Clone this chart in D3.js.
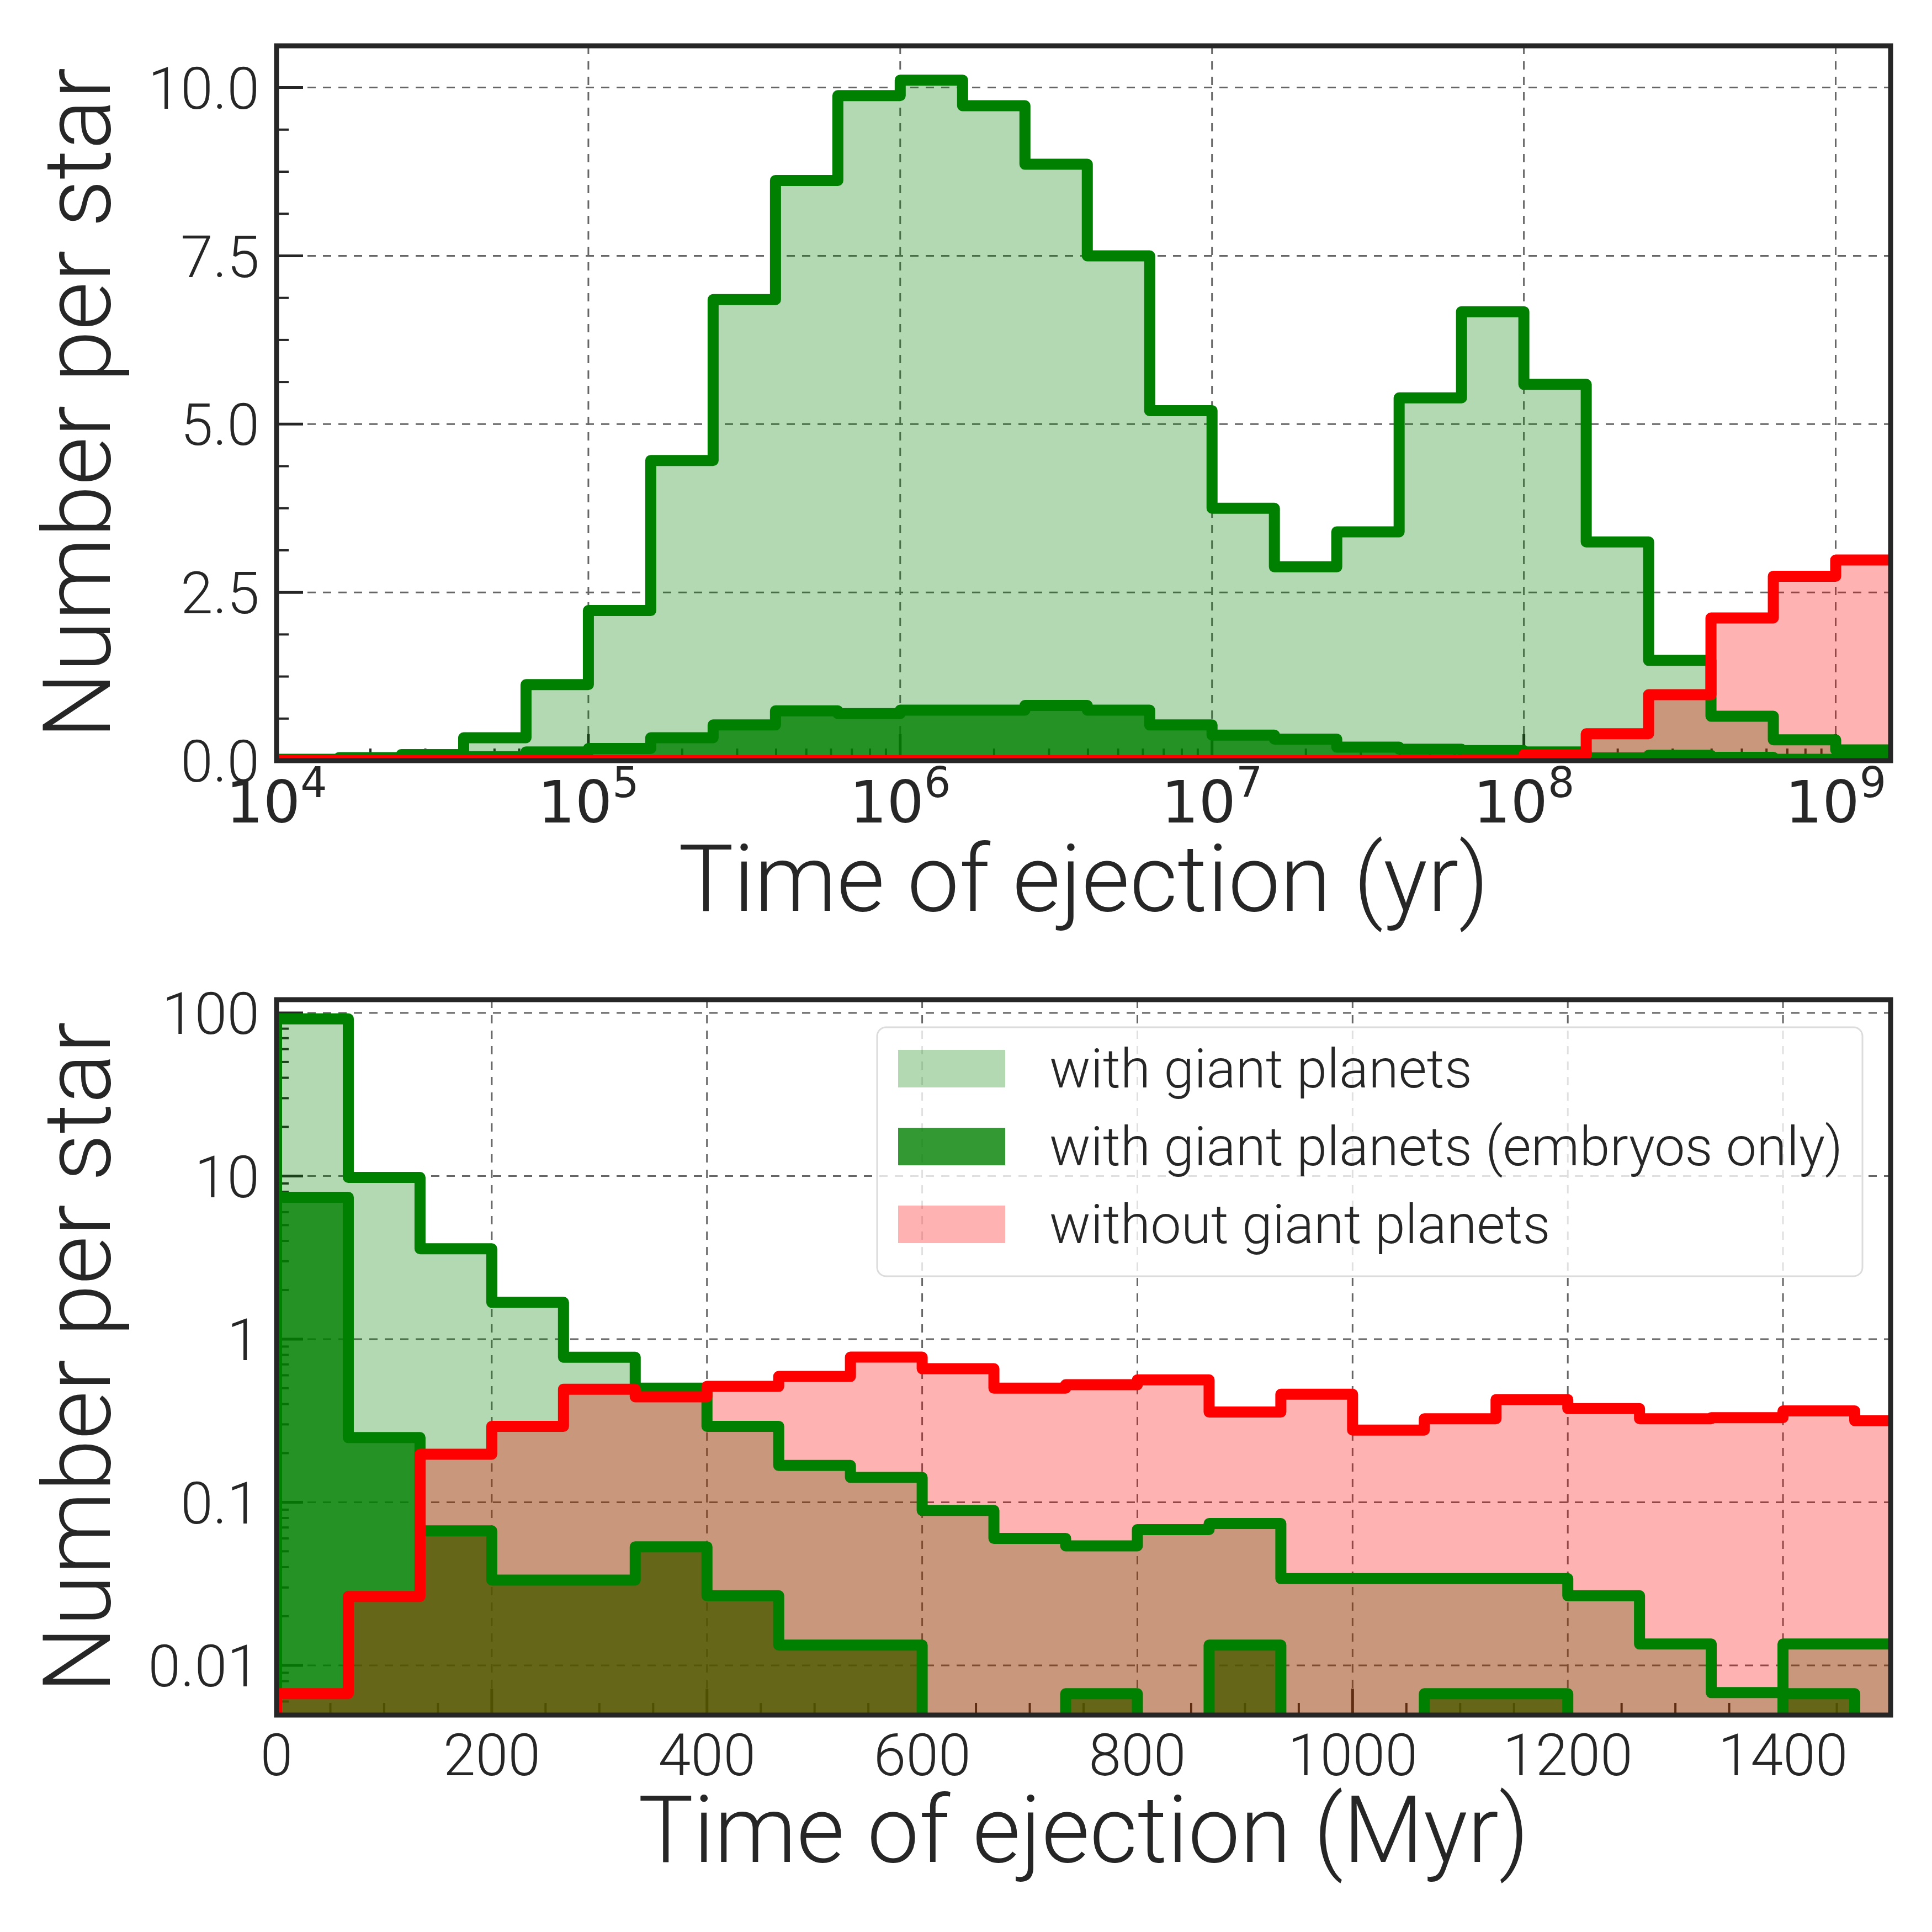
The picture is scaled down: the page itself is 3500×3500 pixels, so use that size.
<!DOCTYPE html>
<html><head><meta charset="utf-8">
<script src="https://cdn.jsdelivr.net/npm/d3@7"></script>
<style>
html,body{margin:0;padding:0;background:#fff;}
svg{display:block;}
text{font-family:Roboto,"Liberation Sans",sans-serif;font-weight:300;fill:#262626;}
text.math{font-family:"DejaVu Sans",sans-serif;font-weight:400;}
</style></head><body>
<svg id="chart" width="3500" height="3500" xmlns="http://www.w3.org/2000/svg"></svg>
<script>
// ---------------- DATA ----------------
// Top panel: log10 of bin edges (years)
const topEdgesLog10 = [4.0,4.2,4.4,4.6,4.8,5.0,5.2,5.4,5.6,5.8,6.0,6.2,6.4,6.6,6.8,7.0,7.2,7.4,7.6,7.8,8.0,8.2,8.4,8.6,8.8,9.0,9.2];
const topWithGiants   = [0.02,0.045,0.09,0.34,1.13,2.23,4.46,6.85,8.62,9.88,10.11,9.73,8.86,7.5,5.2,3.75,2.88,3.40,5.39,6.67,5.59,3.25,1.49,0.66,0.31,0.16];
const topEmbryosOnly  = [0.01,0.02,0.03,0.06,0.13,0.18,0.34,0.53,0.74,0.70,0.75,0.75,0.82,0.75,0.53,0.38,0.32,0.20,0.17,0.15,0.13,0.04,0.08,0.05,0.02,0.02];
const topWithoutGiants= [0,0,0,0,0,0,0,0,0,0,0,0,0,0,0,0,0,0,0,0.01,0.09,0.40,0.98,2.12,2.74,2.98];

// Bottom panel: bin edges (Myr)
const botEdges = [0,66.67,133.33,200,266.67,333.33,400,466.67,533.33,600,666.67,733.33,800,866.67,933.33,1000,1066.67,1133.33,1200,1266.67,1333.33,1400,1466.67,1533.33];
const botWithGiants    = [92,9.8,3.58,1.68,0.774,0.50,0.292,0.168,0.142,0.089,0.060,0.054,0.068,0.074,0.034,0.034,0.034,0.034,0.0267,0.0135,0.0068,0.0135,0.0135];
const botEmbryosOnly   = [7.4,0.249,0.0667,0.0333,0.0333,0.0533,0.0267,0.0133,0.0133,0,0,0.0067,0,0.0133,0,0,0.0067,0.0067,0,0,0,0.0067,0];
const botWithoutGiants = [0.0067,0.0264,0.197,0.292,0.493,0.443,0.513,0.59,0.776,0.658,0.50,0.525,0.562,0.357,0.459,0.277,0.325,0.426,0.375,0.325,0.33,0.363,0.316];

// Ticks / labels
const topXTickExps = [4,5,6,7,8,9];
const topYTicks = [0,2.5,5,7.5,10];
const topYTickLabels = ["0.0","2.5","5.0","7.5","10.0"];
const botXTicks = [0,200,400,600,800,1000,1200,1400];
const botYTicks = [0.01,0.1,1,10,100];
const botYTickLabels = ["0.01","0.1","1","10","100"];
const legendLabels = ["with giant planets","with giant planets (embryos only)","without giant planets"];
const yAxisLabel = "Number per star";
const topXAxisLabel = "Time of ejection (yr)";
const botXAxisLabel = "Time of ejection (Myr)";

// ---------------- STYLE / LAYOUT ----------------
const TEXT = "#262626";
const C_LIGHT = "rgba(0,128,0,0.3)";
const C_DARK = "rgba(0,128,0,0.8)";
const C_RED = "rgba(255,0,0,0.3)";
const LINE_G = "#008000", LINE_R = "#ff0000";
const LW = 20;
const L = 501, R = 3425;
const TICKFS = 106;
const topPanel = {top:83, bottom:1378};
const botPanel = {top:1811, bottom:3107};

const svg = d3.select("#chart");
svg.append("rect").attr("width",3500).attr("height",3500).attr("fill","#fff");
const defs = svg.append("defs");

const xTop = d3.scaleLog().domain([1e4, 1.5e9]).range([L, R]);
const yTop = d3.scaleLinear().domain([0, 10.62]).range([topPanel.bottom, topPanel.top]);
const xBot = d3.scaleLinear().domain([0, 1500]).range([L, R]);
const yBot = d3.scaleLog().domain([Math.pow(10,-2.305), Math.pow(10,2.081)]).range([botPanel.bottom, botPanel.top]);

function clip(id, p){
  defs.append("clipPath").attr("id",id).append("rect")
    .attr("x",L).attr("y",p.top).attr("width",R-L).attr("height",p.bottom-p.top);
}
clip("clipTop", topPanel); clip("clipBot", botPanel);

function stepPts(edges, vals, floor){
  const pts = [[edges[0], floor]];
  vals.forEach((v,i)=>{ const vv = v>0 ? v : floor; pts.push([edges[i], vv]); pts.push([edges[i+1], vv]); });
  pts.push([edges[edges.length-1], floor]);
  return pts;
}

function drawPanel(g, p, xs, ys, cfg){
  // grid
  const grid = g.append("g");
  cfg.xGrid.forEach(v=>grid.append("line").attr("x1",xs(v)).attr("x2",xs(v)).attr("y1",p.top).attr("y2",p.bottom));
  cfg.yGrid.forEach(v=>grid.append("line").attr("x1",L).attr("x2",R).attr("y1",ys(v)).attr("y2",ys(v)));
  grid.selectAll("line").attr("stroke","#666").attr("stroke-width",3).attr("stroke-dasharray","15,13");
  // ticks
  const tk = g.append("g").attr("stroke",TEXT);
  cfg.xMajor.forEach(v=>tk.append("line").attr("x1",xs(v)).attr("x2",xs(v)).attr("y1",p.bottom).attr("y2",p.bottom-48).attr("stroke-width",5));
  cfg.xMinor.forEach(v=>tk.append("line").attr("x1",xs(v)).attr("x2",xs(v)).attr("y1",p.bottom).attr("y2",p.bottom-22).attr("stroke-width",4));
  cfg.yMajor.forEach(v=>tk.append("line").attr("y1",ys(v)).attr("y2",ys(v)).attr("x1",L).attr("x2",L+48).attr("stroke-width",5));
  cfg.yMinor.forEach(v=>tk.append("line").attr("y1",ys(v)).attr("y2",ys(v)).attr("x1",L).attr("x2",L+22).attr("stroke-width",4));
  // data
  const dg = g.append("g").attr("clip-path",`url(#${cfg.clipId})`);
  const line = d3.line().x(d=>xs(d[0])).y(d=>ys(d[1]));
  const series = cfg.series;
  series.forEach(s=>{
    dg.append("path").attr("d", line(stepPts(cfg.edges, s.vals, cfg.floor)) + "Z")
      .attr("fill", s.fill).attr("stroke","none");
  });
  series.forEach(s=>{
    dg.append("path").attr("d", line(stepPts(cfg.edges, s.vals, cfg.floor)))
      .attr("fill","none").attr("stroke", s.line).attr("stroke-width", LW)
      .attr("stroke-linejoin","round");
  });
  // frame
  g.append("rect").attr("x",L).attr("y",p.top).attr("width",R-L).attr("height",p.bottom-p.top)
    .attr("fill","none").attr("stroke",TEXT).attr("stroke-width",9);
}

// ---------- TOP PANEL ----------
const topEdges = topEdgesLog10.map(e=>Math.pow(10,e));
const topMinor = [];
for (let e=4; e<=9; e++) for (let m=2; m<=9; m++){ const v=m*Math.pow(10,e); if (v<1.5e9) topMinor.push(v); }
const topYMinor = [];
for (let k=0; k<4; k++) [0.625,1.25,1.875].forEach(o=>topYMinor.push(topYTicks[k]+o));
const gTop = svg.append("g");
drawPanel(gTop, topPanel, xTop, yTop, {
  clipId:"clipTop", edges:topEdges, floor:0,
  xGrid: topXTickExps.map(e=>Math.pow(10,e)), yGrid: topYTicks,
  xMajor: topXTickExps.map(e=>Math.pow(10,e)), xMinor: topMinor,
  yMajor: topYTicks, yMinor: topYMinor,
  series:[
    {vals:topWithGiants, fill:C_LIGHT, line:LINE_G},
    {vals:topEmbryosOnly, fill:C_DARK, line:LINE_G},
    {vals:topWithoutGiants, fill:C_RED, line:LINE_R}
  ]
});
// top tick labels
topYTicks.forEach((v,i)=>{
  gTop.append("text").attr("x",470).attr("y",yTop(v)).attr("dy","0.36em")
    .attr("text-anchor","end").attr("font-size",TICKFS).text(topYTickLabels[i]);
});
topXTickExps.forEach(e=>{
  const t = gTop.append("text").attr("class","math").attr("x",xTop(Math.pow(10,e))).attr("y",1490)
    .attr("text-anchor","middle").attr("font-size",106);
  t.append("tspan").text("10");
  t.append("tspan").attr("dy",-46).attr("font-size",76).text(String(e));
});
gTop.append("text").attr("transform",`translate(199,${(topPanel.top+topPanel.bottom)/2}) rotate(-90)`)
  .attr("text-anchor","middle").attr("font-size",170).text(yAxisLabel);
gTop.append("text").attr("x",(L+R)/2).attr("y",1650).attr("text-anchor","middle")
  .attr("font-size",168).text(topXAxisLabel);

// ---------- BOTTOM PANEL ----------
const botXMinor = [];
for (let v=50; v<1500; v+=50) if (v%200!==0) botXMinor.push(v);
const botYMinor = [];
for (let e=-3; e<=2; e++) for (let m=2; m<=9; m++){ const v=m*Math.pow(10,e); if (v>yBot.domain()[0] && v<yBot.domain()[1]) botYMinor.push(v); }
const gBot = svg.append("g");
drawPanel(gBot, botPanel, xBot, yBot, {
  clipId:"clipBot", edges:botEdges, floor:1e-4,
  xGrid: botXTicks, yGrid: botYTicks,
  xMajor: botXTicks, xMinor: botXMinor,
  yMajor: botYTicks, yMinor: botYMinor,
  series:[
    {vals:botWithGiants, fill:C_LIGHT, line:LINE_G},
    {vals:botEmbryosOnly, fill:C_DARK, line:LINE_G},
    {vals:botWithoutGiants, fill:C_RED, line:LINE_R}
  ]
});
botYTicks.forEach((v,i)=>{
  gBot.append("text").attr("x",470).attr("y",yBot(v)).attr("dy","0.36em")
    .attr("text-anchor","end").attr("font-size",TICKFS).text(botYTickLabels[i]);
});
botXTicks.forEach(v=>{
  gBot.append("text").attr("x",xBot(v)).attr("y",3216).attr("text-anchor","middle")
    .attr("font-size",TICKFS).text(String(v));
});
gBot.append("text").attr("transform",`translate(199,${(botPanel.top+botPanel.bottom)/2}) rotate(-90)`)
  .attr("text-anchor","middle").attr("font-size",170).text(yAxisLabel);
gBot.append("text").attr("x",(L+R)/2).attr("y",3373).attr("text-anchor","middle")
  .attr("font-size",168).text(botXAxisLabel);

// legend
const lg = gBot.append("g");
lg.append("rect").attr("x",1589).attr("y",1861).attr("width",1785).attr("height",451).attr("rx",16)
  .attr("fill","#fff").attr("fill-opacity",0.8).attr("stroke","#dcdcdc").attr("stroke-width",3);
const legFills = [C_LIGHT, C_DARK, C_RED];
legendLabels.forEach((lab,i)=>{
  const yb = 1970 + i*141;
  lg.append("rect").attr("x",1627).attr("y",yb-68).attr("width",194).attr("height",68).attr("fill",legFills[i]);
  lg.append("text").attr("x",1901).attr("y",yb).attr("font-size",99).text(lab);
});
</script>
</body></html>
